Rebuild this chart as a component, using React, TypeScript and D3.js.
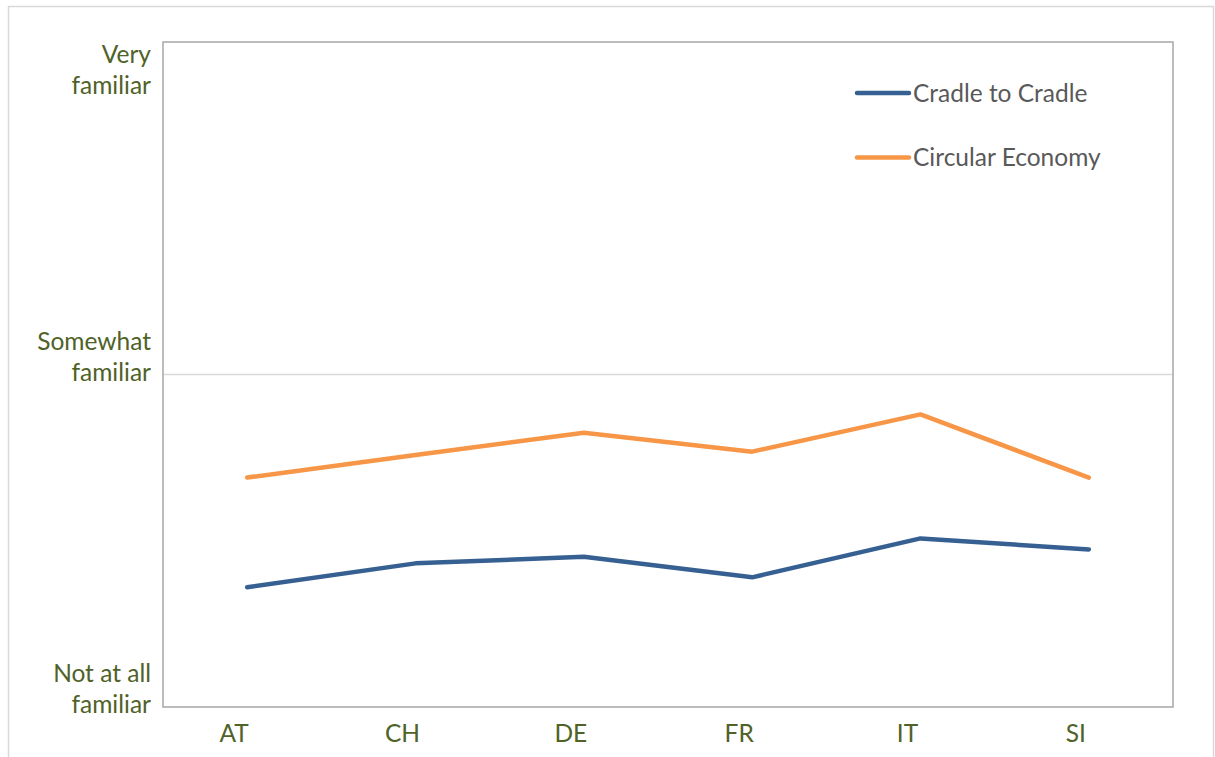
import React, { useEffect, useRef } from 'react';
import * as d3 from 'd3';

// Data
const countries = ['AT', 'CH', 'DE', 'FR', 'IT', 'SI'];
const cradleToCradle = [1.36, 1.432, 1.452, 1.39, 1.507, 1.474];
const circularEconomy = [1.69, 1.758, 1.825, 1.768, 1.88, 1.69];
const levelValues = [1, 2, 3];
const levelLabels = [['Not at all', 'familiar'], ['Somewhat', 'familiar'], ['Very', 'familiar']];
const seriesNames = ['Cradle to Cradle', 'Circular Economy'];

const App = () => {
  const ref = useRef<SVGSVGElement | null>(null);

  useEffect(() => {
    const width = 1215;
    const height = 757;
    const margin = { top: 42, right: 42, bottom: 50, left: 163 };
    const font = 'Lato, "Open Sans", sans-serif';
    const fontSize = 24.5;
    const olive = '#4f6228';

    const svg = d3.select(ref.current);
    svg.selectAll('*').remove();
    svg.attr('width', width).attr('height', height);

    // outer chart border
    svg.append('rect')
      .attr('x', 8.5).attr('y', 6.5)
      .attr('width', 1205).attr('height', 800)
      .attr('fill', 'white')
      .attr('stroke', '#d9d9d9')
      .attr('stroke-width', 1.5);

    const x = d3.scalePoint<string>()
      .domain(countries)
      .range([margin.left, width - margin.right])
      .padding(0.5);

    const y = d3.scaleLinear()
      .domain([1, 3])
      .range([height - margin.bottom, margin.top]);

    // gridlines (inner only)
    svg.append('g')
      .selectAll('line')
      .data(levelValues.filter(v => v !== 1 && v !== 3))
      .enter()
      .append('line')
      .attr('x1', margin.left).attr('x2', width - margin.right)
      .attr('y1', d => y(d)).attr('y2', d => y(d))
      .attr('stroke', '#d9d9d9')
      .attr('stroke-width', 1.5);

    // plot area border
    svg.append('rect')
      .attr('x', margin.left).attr('y', margin.top)
      .attr('width', width - margin.right - margin.left)
      .attr('height', height - margin.bottom - margin.top)
      .attr('fill', 'none')
      .attr('stroke', '#a6a6a6')
      .attr('stroke-width', 1.5);

    // y labels, two lines, bottom line near the tick, kept inside the plot
    const lineGap = 31;
    levelValues.forEach((v, i) => {
      let base = y(v) + 6;
      const lines = levelLabels[i];
      const firstBase = base - lineGap * (lines.length - 1);
      if (firstBase - 21 < margin.top) base += margin.top + 21 - firstBase;
      const t = svg.append('text')
        .attr('text-anchor', 'end')
        .attr('font-family', font)
        .attr('font-size', fontSize)
        .attr('fill', olive);
      lines.forEach((l, j) => {
        t.append('tspan')
          .attr('x', margin.left - 12)
          .attr('y', base - lineGap * (lines.length - 1 - j))
          .text(l);
      });
    });

    // x labels
    svg.append('g')
      .selectAll('text')
      .data(countries)
      .enter()
      .append('text')
      .attr('x', d => x(d)! - 13)
      .attr('y', height - margin.bottom + 35)
      .attr('text-anchor', 'middle')
      .attr('font-family', font)
      .attr('font-size', fontSize)
      .attr('fill', olive)
      .text(d => d);

    const colors = ['#376092', '#f79646'];
    const series = [cradleToCradle, circularEconomy];
    const line = d3.line<number>()
      .x((_, i) => x(countries[i])!)
      .y(d => y(d));

    series.forEach((s, i) => {
      svg.append('path')
        .datum(s)
        .attr('d', line)
        .attr('fill', 'none')
        .attr('stroke', colors[i])
        .attr('stroke-width', 4.5)
        .attr('stroke-linecap', 'round')
        .attr('stroke-linejoin', 'round');
    });

    // legend
    const legend = svg.append('g').attr('transform', 'translate(857, 93)');
    seriesNames.forEach((name, i) => {
      const g = legend.append('g').attr('transform', `translate(0, ${i * 64.5})`);
      g.append('line')
        .attr('x1', 0).attr('x2', 52)
        .attr('stroke', colors[i])
        .attr('stroke-width', 4.5)
        .attr('stroke-linecap', 'round');
      g.append('text')
        .attr('x', 56)
        .attr('y', 8.5)
        .attr('font-family', font)
        .attr('font-size', fontSize)
        .attr('fill', '#595959')
        .text(name);
    });

    return () => {
      svg.selectAll('*').remove();
    };
  }, []);

  return <svg ref={ref} style={{ position: 'absolute', left: 0, top: 0 }}></svg>;
};

export default App;
